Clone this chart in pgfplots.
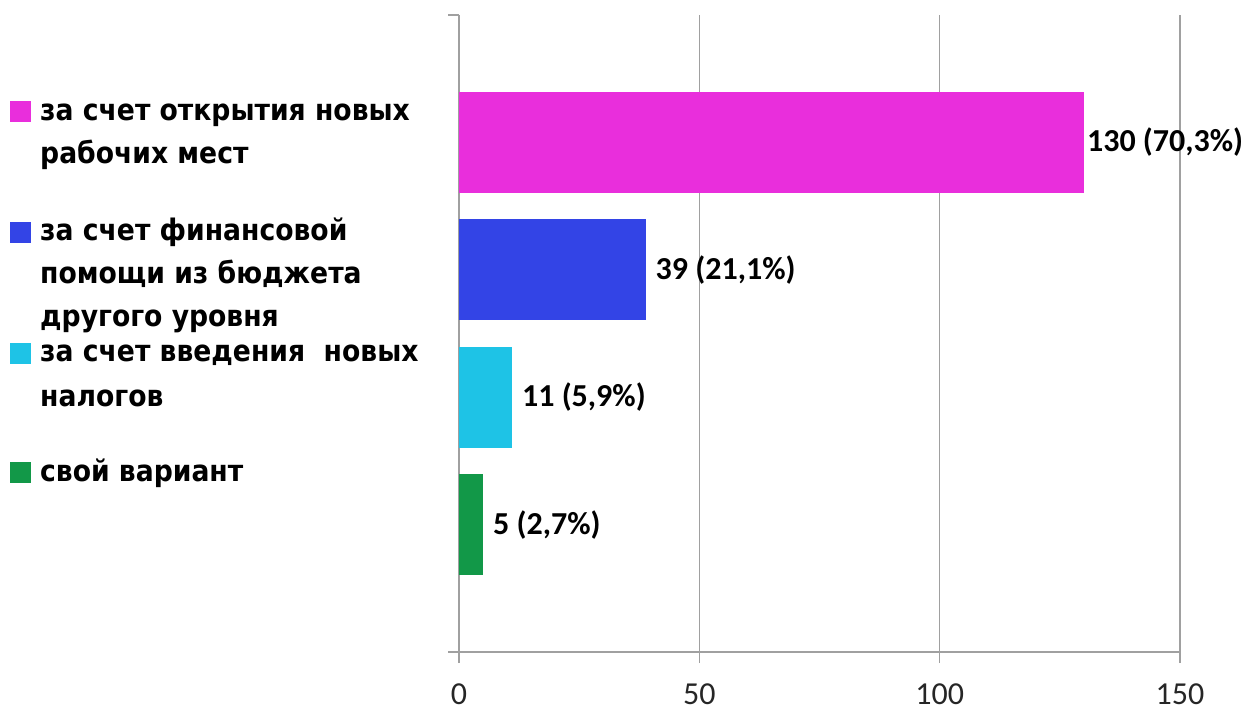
\documentclass[border=0pt]{standalone}
\usepackage{fontspec}
\setmainfont{Carlito}
\newfontfamily\legfont{DejaVu Sans Condensed}
\usepackage{pgfplots}
\pgfplotsset{compat=1.18}
\definecolor{cpink}{RGB}{233,46,220}
\definecolor{cblue}{RGB}{51,68,230}
\definecolor{ccyan}{RGB}{30,195,230}
\definecolor{cgreen}{RGB}{18,152,72}
\definecolor{axgray}{RGB}{160,160,160}
\begin{document}
\begin{tikzpicture}[x=1pt,y=1pt]
\useasboundingbox (0,0) rectangle (1247,713);
\begin{axis}[
  at={(459pt,61pt)}, anchor=south west,
  scale only axis, width=721pt, height=637pt,
  xmin=0, xmax=150, ymin=0, ymax=5,
  xtick={0,50,100,150}, ytick={0,5}, yticklabels={},
  axis x line=bottom, axis y line=left,
  axis line style={axgray, line width=1.3pt, -},
  xmajorgrids, grid style={axgray, line width=1.3pt},
  tick style={axgray, line width=1.3pt},
  major tick length=11pt, tick align=outside,
  xticklabel style={font=\fontsize{32}{33}\selectfont, text=black!85, yshift=-17pt},
  /pgf/number format/assume math mode=true,
  xbar, bar width=101pt, clip=false,
  nodes near coords, point meta=explicit symbolic,
  nodes near coords style={anchor=west, inner sep=0pt, font=\bfseries\fontsize{32}{33}\selectfont, text=black},
]
\addplot[fill=cpink, draw=none, bar shift=0pt, nodes near coords style={xshift=3pt}] coordinates {(130,4) [130 (70,3\%)]};
\addplot[fill=cblue, draw=none, bar shift=0pt, nodes near coords style={xshift=9pt}] coordinates {(39,3) [39 (21,1\%)]};
\addplot[fill=ccyan, draw=none, bar shift=0pt, nodes near coords style={xshift=10pt}] coordinates {(11,2) [11 (5,9\%)]};
\addplot[fill=cgreen, draw=none, bar shift=0pt, nodes near coords style={xshift=10pt}] coordinates {(5,1) [5 (2,7\%)]};
\end{axis}
\begin{scope}[every node/.style={anchor=base west, inner sep=0pt, font=\legfont\bfseries\fontsize{29.6}{31}\selectfont}]
\fill[cpink]  (10,{713-122}) rectangle (31,{713-101});
\fill[cblue]  (10,{713-243}) rectangle (31,{713-222});
\fill[ccyan]  (10,{713-364}) rectangle (31,{713-343});
\fill[cgreen] (10,{713-483}) rectangle (31,{713-462});
\node at (40,{713-121}) {за счет открытия новых};
\node at (40,{713-164}) {рабочих мест};
\node at (40,{713-241}) {за счет финансовой};
\node at (40,{713-284}) {помощи из бюджета};
\node at (40,{713-327}) {другого уровня};
\node at (40,{713-362}) {за счет введения\ \ новых};
\node at (40,{713-406}) {налогов};
\node at (40,{713-481}) {свой вариант};
\end{scope}
\end{tikzpicture}
\end{document}
